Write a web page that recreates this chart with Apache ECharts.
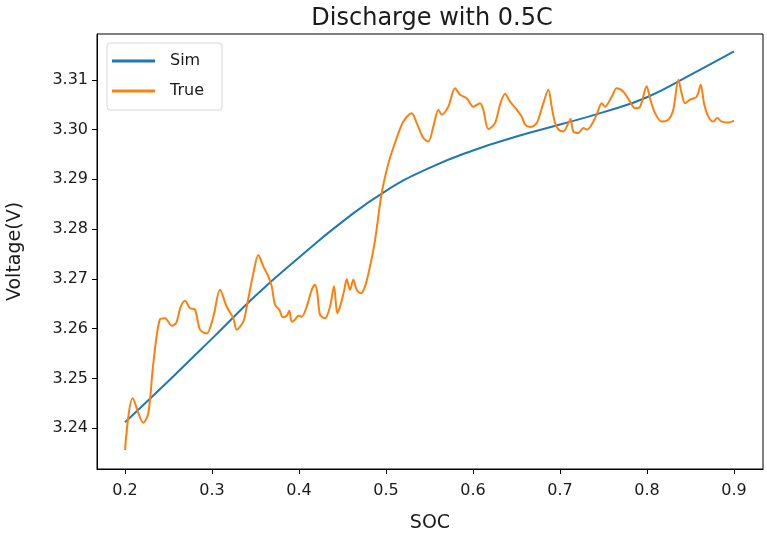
<!DOCTYPE html>
<html>
<head>
<meta charset="utf-8">
<title>Discharge with 0.5C</title>
<script src="https://cdn.jsdelivr.net/npm/echarts@6/dist/echarts.min.js"></script>
<style>
  html, body { margin: 0; padding: 0; background: #fff; }
  #chart { width: 767px; height: 536px; }
</style>
</head>
<body>
<div id="chart"></div>
<script>
// Simulated discharge curve (state of charge vs. terminal voltage)
const socSim = [0.20, 0.25, 0.30, 0.35, 0.40, 0.45, 0.50, 0.55, 0.60, 0.65, 0.70, 0.75, 0.80, 0.85, 0.90];
const vSim   = [3.2412, 3.2495, 3.2580, 3.2666, 3.2743, 3.2815, 3.2877, 3.2923, 3.2958, 3.2986, 3.3010, 3.3035, 3.3065, 3.3110, 3.3157];

// Measured discharge curve
const socTrue = [
  0.2000, 0.2088, 0.2211, 0.2268, 0.2326, 0.2402, 0.2460, 0.2537, 0.2587, 0.2640,
  0.2690, 0.2747, 0.2805, 0.2862, 0.2939, 0.3015, 0.3092, 0.3169, 0.3245, 0.3284,
  0.3360, 0.3399, 0.3475, 0.3532, 0.3590, 0.3647, 0.3686, 0.3724, 0.3774, 0.3813,
  0.3859, 0.3889, 0.3916, 0.3954, 0.3992, 0.4031, 0.4088, 0.4146, 0.4184, 0.4211,
  0.4241, 0.4299, 0.4356, 0.4402, 0.4440, 0.4471, 0.4517, 0.4548, 0.4586, 0.4624,
  0.4663, 0.4709, 0.4759, 0.4816, 0.4874, 0.4950, 0.5027, 0.5103, 0.5199, 0.5295,
  0.5353, 0.5429, 0.5487, 0.5544, 0.5602, 0.5640, 0.5716, 0.5793, 0.5851, 0.5927,
  0.6004, 0.6080, 0.6118, 0.6176, 0.6253, 0.6310, 0.6368, 0.6425, 0.6502, 0.6560,
  0.6598, 0.6655, 0.6732, 0.6808, 0.6866, 0.6904, 0.6943, 0.6981, 0.7038, 0.7096,
  0.7122, 0.7153, 0.7210, 0.7268, 0.7314, 0.7364, 0.7421, 0.7479, 0.7517, 0.7594,
  0.7651, 0.7728, 0.7805, 0.7862, 0.7920, 0.7996, 0.8034, 0.8092, 0.8169, 0.8245,
  0.8302, 0.8360, 0.8398, 0.8437, 0.8494, 0.8571, 0.8617, 0.8655, 0.8705, 0.8762,
  0.8808, 0.8858, 0.8935, 0.9000
];
const vTrue = [
  3.2356, 3.2460, 3.2411, 3.2430, 3.2531, 3.2619, 3.2621, 3.2606, 3.2611, 3.2644,
  3.2656, 3.2641, 3.2638, 3.2598, 3.2590, 3.2624, 3.2678, 3.2644, 3.2621, 3.2598,
  3.2614, 3.2644, 3.2711, 3.2748, 3.2725, 3.2705, 3.2685, 3.2648, 3.2638, 3.2623,
  3.2626, 3.2636, 3.2614, 3.2618, 3.2626, 3.2624, 3.2644, 3.2678, 3.2688, 3.2671,
  3.2628, 3.2621, 3.2644, 3.2685, 3.2631, 3.2644, 3.2675, 3.2699, 3.2678, 3.2698,
  3.2678, 3.2671, 3.2685, 3.2725, 3.2778, 3.2872, 3.2932, 3.2973, 3.3016, 3.3033,
  3.3013, 3.2983, 3.2976, 3.3006, 3.3040, 3.3030, 3.3046, 3.3083, 3.3070, 3.3063,
  3.3046, 3.3053, 3.3040, 3.3001, 3.3013, 3.3050, 3.3072, 3.3056, 3.3040, 3.3026,
  3.3010, 3.3005, 3.3013, 3.3053, 3.3080, 3.3046, 3.3013, 3.3000, 3.2996, 3.3013,
  3.3021, 3.2996, 3.2993, 3.3003, 3.3000, 3.3010, 3.3030, 3.3053, 3.3046, 3.3066,
  3.3083, 3.3076, 3.3056, 3.3043, 3.3046, 3.3087, 3.3063, 3.3033, 3.3016, 3.3020,
  3.3040, 3.3100, 3.3073, 3.3053, 3.3060, 3.3066, 3.3090, 3.3053, 3.3026, 3.3016,
  3.3023, 3.3016, 3.3014, 3.3018
];

// Tick positions
const xTicks = [0.2, 0.3, 0.4, 0.5, 0.6, 0.7, 0.8, 0.9];
const yTicks = [3.24, 3.25, 3.26, 3.27, 3.28, 3.29, 3.30, 3.31];

const pairs = (xs, ys) => xs.map((x, i) => [x, ys[i]]);

const FONT = 'DejaVu Sans';
const TEXT = '#1a1a1a';

const chart = echarts.init(document.getElementById('chart'), null, { renderer: 'canvas' });

chart.setOption({
  animation: false,
  backgroundColor: '#fff',
  textStyle: { fontFamily: FONT },
  title: {
    text: 'Discharge with 0.5C',
    left: 427,
    textAlign: 'center',
    top: 2,
    textStyle: { fontFamily: FONT, fontSize: 24, fontWeight: 'normal', color: TEXT }
  },
  legend: {
    orient: 'vertical',
    left: 107,
    top: 43,
    padding: [9, 18, 10, 5],
    itemGap: 12,
    itemWidth: 43,
    itemHeight: 3,
    icon: 'rect',
    backgroundColor: 'rgba(255,255,255,0.8)',
    borderColor: '#d6d6d6',
    borderWidth: 1,
    borderRadius: 3,
    textStyle: { fontFamily: FONT, fontSize: 16, color: TEXT, padding: [0, 0, 0, 10], lineHeight: 18 },
    data: ['Sim', 'True']
  },
  grid: {
    left: 97,
    right: 4,
    top: 34,
    bottom: 67,
    containLabel: false,
    outerBoundsMode: 'none',
    show: true,
    borderColor: '#000',
    borderWidth: 1,
    backgroundColor: 'transparent'
  },
  xAxis: {
    type: 'value',
    min: 0.1678,
    max: 0.9333,
    name: 'SOC',
    nameLocation: 'middle',
    nameGap: 45,
    nameTextStyle: { fontFamily: FONT, fontSize: 19, color: TEXT },
    axisLine: { show: true, onZero: false, lineStyle: { color: '#000', width: 1 } },
    axisTick: { show: true, length: 5, customValues: xTicks, lineStyle: { color: '#000' } },
    axisLabel: {
      customValues: xTicks,
      margin: 14,
      fontFamily: FONT,
      fontSize: 16,
      color: TEXT,
      formatter: v => v.toFixed(1)
    },
    splitLine: { show: false }
  },
  yAxis: {
    type: 'value',
    min: 3.2318,
    max: 3.3192,
    name: 'Voltage(V)',
    nameLocation: 'middle',
    nameGap: 72,
    nameRotate: 90,
    nameTextStyle: { fontFamily: FONT, fontSize: 19, color: TEXT },
    axisLine: { show: true, onZero: false, lineStyle: { color: '#000', width: 1 } },
    axisTick: { show: true, length: 5, customValues: yTicks, lineStyle: { color: '#000' } },
    axisLabel: {
      customValues: yTicks,
      margin: 9,
      fontFamily: FONT,
      fontSize: 16,
      color: TEXT,
      formatter: v => v.toFixed(2)
    },
    splitLine: { show: false }
  },
  series: [
    {
      name: 'Sim',
      type: 'line',
      data: pairs(socSim, vSim),
      smooth: 0.5,
      showSymbol: false,
      color: '#1f77b4',
      lineStyle: { width: 2, color: '#1f77b4' }
    },
    {
      name: 'True',
      type: 'line',
      data: pairs(socTrue, vTrue),
      smooth: 0.3,
      showSymbol: false,
      color: '#ff7f0e',
      lineStyle: { width: 2, color: '#ff7f0e' }
    }
  ]
});
</script>
</body>
</html>
